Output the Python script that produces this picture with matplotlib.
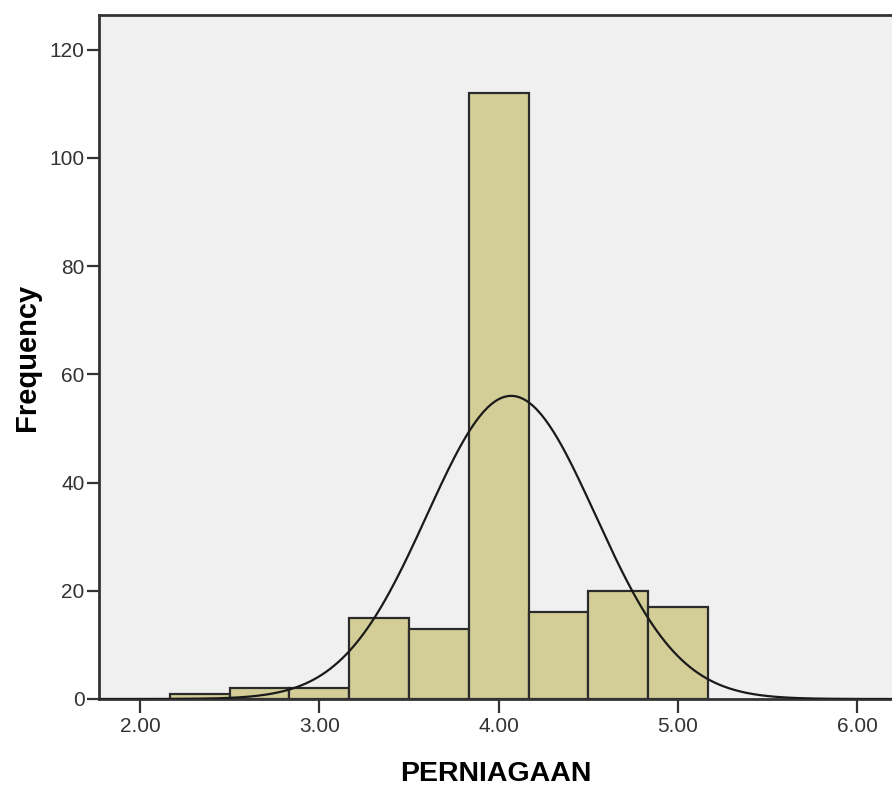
import matplotlib.pyplot as plt
import numpy as np

# bins of the histogram (width 1/3) and counts
bin_edges = [2.1667, 2.5, 2.8333, 3.1667, 3.5, 3.8333, 4.1667, 4.5, 4.8333, 5.1667]
counts = [1, 2, 2, 15, 13, 112, 16, 20, 17]
# normal curve parameters (fitted by SPSS)
mean = 4.07
sd = 0.47
x_ticks = [2, 3, 4, 5, 6]
y_ticks = [0, 20, 40, 60, 80, 100, 120]

plt.rcParams['font.family'] = ['Liberation Sans', 'DejaVu Sans']

fig = plt.figure(figsize=(8.92, 7.9), dpi=100)
ax = fig.add_axes([99/892, 91/790, 1 - 99/892, 684/790])
ax.set_facecolor('#f0f0f0')

widths = np.diff(bin_edges)
ax.bar(bin_edges[:-1], counts, width=widths, align='edge',
       color='#d3ce97', edgecolor='#2b2b2b', linewidth=1.6, zorder=2)

n = sum(counts)
bw = widths[0]
xs = np.linspace(1.7, 6.3, 400)
ys = n * bw / (sd * np.sqrt(2 * np.pi)) * np.exp(-0.5 * ((xs - mean) / sd) ** 2)
ax.plot(xs, ys, color='#1a1a1a', linewidth=1.6, zorder=3)

ax.set_xlim(1.771, 6.194)
ax.set_ylim(0, 126.4)
ax.set_xticks(x_ticks)
ax.set_xticklabels(['%.2f' % t for t in x_ticks])
ax.set_yticks(y_ticks)
ax.tick_params(direction='out', width=1.6, color='#333333',
               labelsize=15, labelcolor='#333333')
ax.tick_params(axis='y', length=9, pad=1.5)
ax.tick_params(axis='x', length=10, pad=3)
for s in ['left', 'bottom', 'top']:
    ax.spines[s].set_linewidth(2)
    ax.spines[s].set_color('#333333')
ax.spines['right'].set_visible(False)

ax.set_xlabel('PERNIAGAAN', fontsize=20.5, fontweight='bold', va='center')
ax.set_ylabel('Frequency', fontsize=21, fontweight='bold', va='center')
ax.xaxis.set_label_coords(0.5, -75/684)
ax.yaxis.set_label_coords((27 - 99)/793, 0.5)

fig.savefig('out.png', dpi=100)
